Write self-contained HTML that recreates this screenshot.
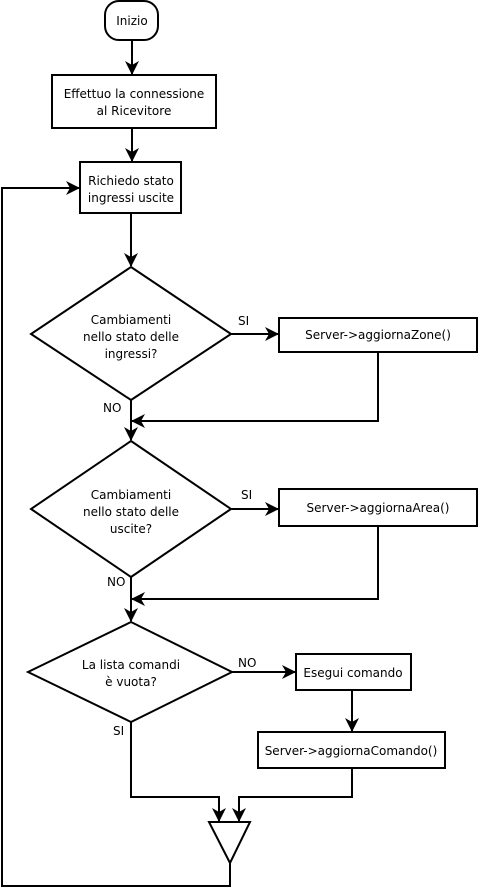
<!DOCTYPE html>
<html><head><style>body{margin:0;background:#fff}svg{display:block}</style></head><body>
<svg width="479" height="889" viewBox="0 0 479 889" font-family="DejaVu Sans, Liberation Sans, sans-serif" font-size="12">
<defs><marker id="a" markerWidth="14" markerHeight="14" refX="13" refY="7" orient="auto" markerUnits="userSpaceOnUse"><path d="M0,0 L14,7 L0,14 L4,7 z" fill="#000"/></marker></defs>
<g fill="none" stroke="#000" stroke-width="2">
<rect x="105" y="1" width="53" height="39" rx="14" fill="#fff"/>
<rect x="52" y="75" width="164" height="53" fill="#fff"/>
<rect x="80" y="162" width="101" height="51" fill="#fff"/>
<polygon points="131,267 231,334 131,400 31,334" fill="#fff"/>
<rect x="279" y="318" width="198" height="34" fill="#fff"/>
<polygon points="131,441 231,509 131,577 31,509" fill="#fff"/>
<rect x="279" y="489" width="198" height="37" fill="#fff"/>
<polygon points="131,622 232,672 131,722 28,672" fill="#fff"/>
<rect x="296" y="654" width="115" height="36" fill="#fff"/>
<rect x="258" y="732" width="187" height="36" fill="#fff"/>
<polygon points="209,822 250,822 230,863" fill="#fff"/>
<path d="M132,40 V74" marker-end="url(#a)"/>
<path d="M132,128 V161" marker-end="url(#a)"/>
<path d="M131,213 V266" marker-end="url(#a)"/>
<path d="M231,334 H278" marker-end="url(#a)"/>
<path d="M131,400 V440" marker-end="url(#a)"/>
<path d="M378,352 V421 H132" marker-end="url(#a)"/>
<path d="M231,509 H278" marker-end="url(#a)"/>
<path d="M131,577 V621" marker-end="url(#a)"/>
<path d="M378,526 V599 H132" marker-end="url(#a)"/>
<path d="M232,672 H295" marker-end="url(#a)"/>
<path d="M352,690 V731" marker-end="url(#a)"/>
<path d="M131,722 V797 H219 V821" marker-end="url(#a)"/>
<path d="M352,768 V797 H239 V821" marker-end="url(#a)"/>
<path d="M230,863 V886 H2 V188 H79" marker-end="url(#a)"/>
</g>
<g text-anchor="middle" fill="#000">
<text x="132" y="25">Inizio</text>
<text x="134" y="98">Effettuo la connessione</text>
<text x="134" y="115">al Ricevitore</text>
<text x="131" y="185">Richiedo stato</text>
<text x="131" y="202">ingressi uscite</text>
<text x="131" y="324">Cambiamenti</text>
<text x="131" y="341">nello stato delle</text>
<text x="131" y="358">ingressi?</text>
<text x="378" y="339">Server-&gt;aggiornaZone()</text>
<text x="131" y="499">Cambiamenti</text>
<text x="131" y="516">nello stato delle</text>
<text x="131" y="533">uscite?</text>
<text x="378" y="512">Server-&gt;aggiornaArea()</text>
<text x="131" y="669">La lista comandi</text>
<text x="131" y="686">è vuota?</text>
<text x="353" y="677">Esegui comando</text>
<text x="351" y="755">Server-&gt;aggiornaComando()</text>
</g>
<g fill="#000">
<text x="238" y="325">SI</text>
<text x="103" y="412">NO</text>
<text x="241" y="499">SI</text>
<text x="107" y="586">NO</text>
<text x="238" y="667">NO</text>
<text x="113" y="735">SI</text>
</g>
</svg>
</body></html>
